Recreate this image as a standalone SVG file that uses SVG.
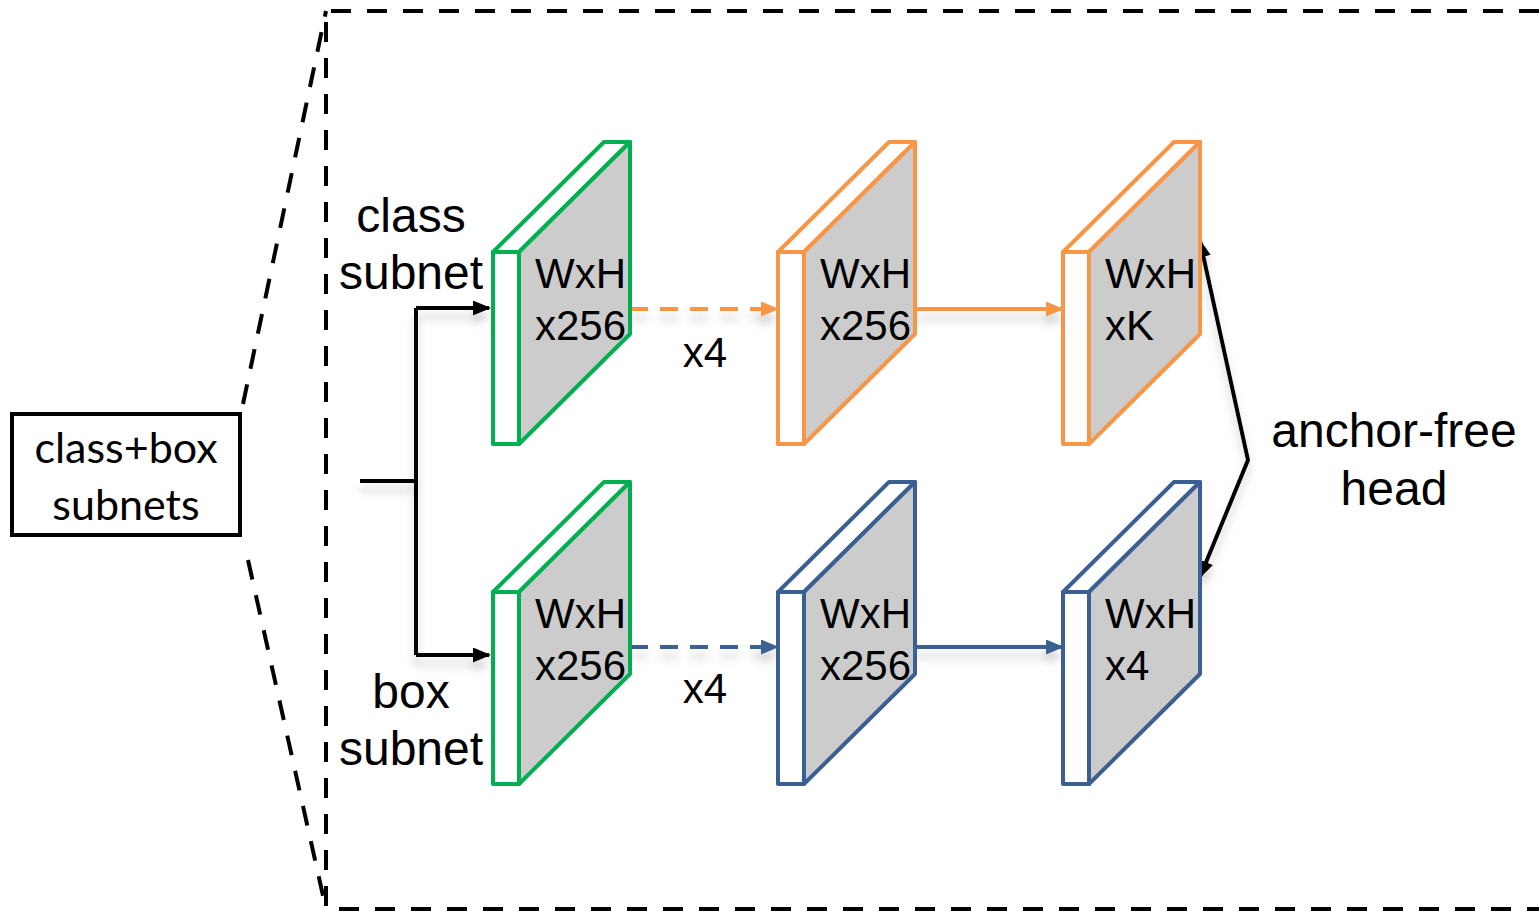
<svg xmlns="http://www.w3.org/2000/svg" width="1539" height="911" viewBox="0 0 1539 911">
<style>
.frame{fill:none;stroke:#000;stroke-width:4;stroke-dasharray:20 16}
.blk{stroke-width:4;stroke-linejoin:round}
.front{fill:#fff}
.top{fill:#fff}
.side{fill:#cccccc}
.g{stroke:#00b050}
.o{stroke:#f79646}
.b{stroke:#3a6093}
.lbl{font-family:"Liberation Sans",Arial,sans-serif;font-size:42px;fill:#000}
.big{font-family:"Liberation Sans",Arial,sans-serif;font-size:48px;fill:#000;text-anchor:middle}
.cal{font-family:Lato,"Liberation Sans",sans-serif;font-size:43px;fill:#000;text-anchor:middle}
.con{fill:none;stroke-width:4}
</style>
<defs>
<filter id="sh" x="-20%" y="-20%" width="140%" height="160%">
<feDropShadow dx="0" dy="9" stdDeviation="4" flood-color="#808080" flood-opacity="0.35"/>
</filter>
<marker id="ak" markerUnits="userSpaceOnUse" markerWidth="18" markerHeight="15" refX="16" refY="7.5" orient="auto-start-reverse"><path d="M0,0 L18,7.5 L0,15 z" fill="#000"/></marker>
<marker id="ao" markerUnits="userSpaceOnUse" markerWidth="18" markerHeight="15" refX="16" refY="7.5" orient="auto"><path d="M0,0 L18,7.5 L0,15 z" fill="#f79646"/></marker>
<marker id="ab" markerUnits="userSpaceOnUse" markerWidth="18" markerHeight="15" refX="16" refY="7.5" orient="auto"><path d="M0,0 L18,7.5 L0,15 z" fill="#3a6093"/></marker>
<g id="slab">
<path class="front" d="M0,0 H26 V192 H0 Z"/>
<path class="top" d="M0,0 L26,0 L137,-110 L111,-110 Z"/>
<path class="side" d="M26,0 L137,-110 L137,82 L26,192 Z"/>
</g>
</defs>
<rect width="1539" height="911" fill="#fff"/>

<g id="frame">
<path class="frame" d="M1539,11 H326 V909 H1539"/>
<path class="frame" d="M243,404 L326,11"/>
<path class="frame" d="M248,560 L326,909"/>
</g>

<g id="summary">
<rect x="12" y="414" width="228" height="121" fill="#fff" stroke="#000" stroke-width="4"/>
<text class="cal" x="126" y="463">class+box</text>
<text class="cal" x="126" y="520">subnets</text>
</g>

<g id="connectors" filter="url(#sh)">
<path class="con" stroke="#000" d="M360,481 H416 M416,308 V655"/>
<path class="con" stroke="#000" d="M416,308 H489" marker-end="url(#ak)"/>
<path class="con" stroke="#000" d="M416,655 H489" marker-end="url(#ak)"/>
<path class="con" stroke="#f79646" stroke-dasharray="18 12" d="M630,309 H777" marker-end="url(#ao)"/>
<path class="con" stroke="#f79646" d="M915,309 H1062" marker-end="url(#ao)"/>
<path class="con" stroke="#3a6093" stroke-dasharray="18 12" d="M630,647 H777" marker-end="url(#ab)"/>
<path class="con" stroke="#3a6093" d="M915,647 H1062" marker-end="url(#ab)"/>
<path class="con" stroke="#000" d="M1200,241 L1248,460 L1200,577" marker-start="url(#ak)" marker-end="url(#ak)"/>
</g>

<g id="cls1" class="blk g" transform="translate(493,252)"><use href="#slab"/></g>
<g id="cls2" class="blk o" transform="translate(778,252)"><use href="#slab"/></g>
<g id="cls3" class="blk o" transform="translate(1063,252)"><use href="#slab"/></g>
<g id="box1" class="blk g" transform="translate(493,592)"><use href="#slab"/></g>
<g id="box2" class="blk b" transform="translate(778,592)"><use href="#slab"/></g>
<g id="box3" class="blk b" transform="translate(1063,592)"><use href="#slab"/></g>

<g id="texts">
<text class="lbl" x="535" y="288">WxH</text><text class="lbl" x="535" y="340">x256</text>
<text class="lbl" x="820" y="288">WxH</text><text class="lbl" x="820" y="340">x256</text>
<text class="lbl" x="1105" y="288">WxH</text><text class="lbl" x="1105" y="340">xK</text>
<text class="lbl" x="535" y="628">WxH</text><text class="lbl" x="535" y="680">x256</text>
<text class="lbl" x="820" y="628">WxH</text><text class="lbl" x="820" y="680">x256</text>
<text class="lbl" x="1105" y="628">WxH</text><text class="lbl" x="1105" y="680">x4</text>
<text class="big" x="411" y="232">class</text><text class="big" x="411" y="289">subnet</text>
<text class="big" x="411" y="708">box</text><text class="big" x="411" y="765">subnet</text>
<text class="lbl" x="705" y="367" text-anchor="middle">x4</text>
<text class="lbl" x="705" y="703" text-anchor="middle">x4</text>
<text class="big" x="1394" y="447">anchor-free</text><text class="big" x="1394" y="505">head</text>
</g>
</svg>
